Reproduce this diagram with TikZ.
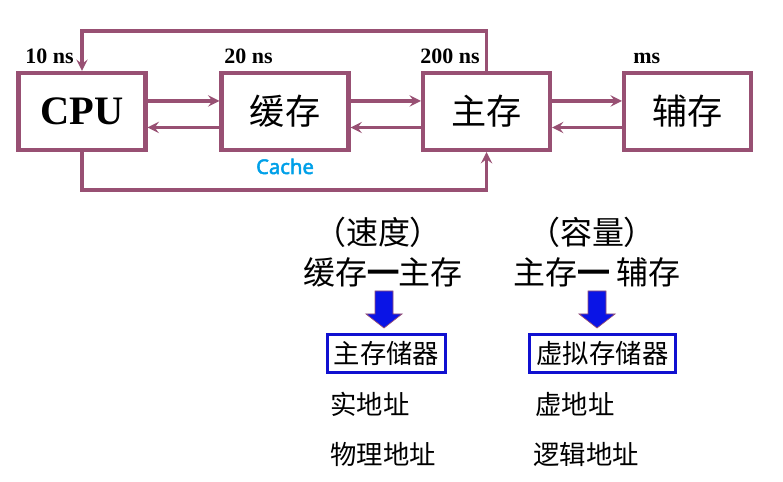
\documentclass[tikz,border=0pt]{standalone}
\usepackage{fontspec}
\setmainfont{Liberation Serif}
\newfontfamily\cjk{Noto Sans CJK SC}
\newfontfamily\cjkbold[FakeBold=4]{Noto Sans CJK SC}
\newfontfamily\cachefont[FakeBold=2.5]{Noto Sans}
\usetikzlibrary{arrows}

\definecolor{linkpurple}{RGB}{152,80,115}
\definecolor{cacheblue}{RGB}{0,160,232}
\definecolor{arrowblue}{RGB}{10,20,230}
\definecolor{framblue}{RGB}{16,16,208}

\begin{document}
\begin{tikzpicture}[x=0.02cm, y=-0.02cm,
  unit/.style={draw=linkpurple, line width=2.3pt, inner sep=0pt,
    minimum width=2.54cm, minimum height=1.54cm},
  link/.style={draw=linkpurple, line width=1.8pt, -stealth},
  timing/.style={anchor=base west, inner sep=0pt, font=\fontsize{12.5}{14}\bfseries},
  title/.style={font=\cjk\fontsize{18.2}{21}\selectfont},
  frame/.style={draw=framblue, line width=1.7pt, inner sep=0pt,
    minimum height=0.76cm, font=\cjk\fontsize{15}{18}\selectfont},
  addr/.style={anchor=west, inner sep=0pt, font=\cjk\fontsize{15}{18}\selectfont},
  bigarrow/.style={fill=arrowblue, draw=linkpurple, line width=0.4pt}]
\useasboundingbox (0,0) rectangle (783,482);

\node[unit, font=\fontsize{23}{26}\bfseries] (cpu) at (82,111.5) {CPU};
\node[unit, font=\cjk\fontsize{20}{22}\selectfont] (cache) at (285,111.5) {缓存};
\node[unit, font=\cjk\fontsize{20}{22}\selectfont] (main) at (486.5,111.5) {主存};
\node[unit, font=\cjk\fontsize{20}{22}\selectfont] (aux) at (687.5,111.5) {辅存};

\node[timing] (t1) at (25,64) {10 ns};
\node[timing] (t2) at (224,64) {20 ns};
\node[timing] (t3) at (420,64) {200 ns};
\node[timing] (t4) at (633,64) {ms};

\node[anchor=base, text=cacheblue, font=\cachefont\fontsize{11.5}{13}\selectfont] (cachename) at (285,174) {Cache};

\draw[link] ([yshift=0.21cm]cpu.east) -- ([yshift=0.21cm]cache.west);
\draw[link] ([yshift=-0.32cm]cache.west) -- ([yshift=-0.32cm]cpu.east);
\draw[link] ([yshift=0.21cm]cache.east) -- ([yshift=0.21cm]main.west);
\draw[link] ([yshift=-0.32cm]main.west) -- ([yshift=-0.32cm]cache.east);
\draw[link] ([yshift=0.21cm]main.east) -- ([yshift=0.21cm]aux.west);
\draw[link] ([yshift=-0.32cm]aux.west) -- ([yshift=-0.32cm]main.east);

\coordinate (up) at (0,31);
\coordinate (down) at (0,190);
\draw[link] (main.north) -- (main.north |- up) -- (cpu.north |- up) -- (cpu.north);
\draw[link] (cpu.south) -- (cpu.south |- down) -- (main.south |- down) -- (main.south);

\node[title] (speed) at (378,232) {（速度）};
\node[title] (pair1) at (383,272) {缓存{\cjkbold 一}主存};
\node[title] (size) at (592,232) {（容量）};
\node[title] (pair2) at (597,272) {主存{\cjkbold 一} 辅存};

\draw[bigarrow, shift={(384,291)}] (-9,0) -- (9,0) -- (9,23) -- (18,23) -- (0,37) -- (-18,23) -- (-9,23) -- cycle;
\draw[bigarrow, shift={(597,291)}] (-9,0) -- (9,0) -- (9,23) -- (18,23) -- (0,37) -- (-18,23) -- (-9,23) -- cycle;

\node[frame, minimum width=2.36cm] (mem) at (386.5,353.5) {主存储器};
\node[frame, minimum width=2.92cm] (vmem) at (602.5,353.5) {虚拟存储器};

\node[addr] (real) at (330,404) {实地址};
\node[addr] (phys) at (330,454) {物理地址};
\node[addr] (virt) at (535,404) {虚地址};
\node[addr] (logic) at (533,454) {逻辑地址};

\end{tikzpicture}
\end{document}
